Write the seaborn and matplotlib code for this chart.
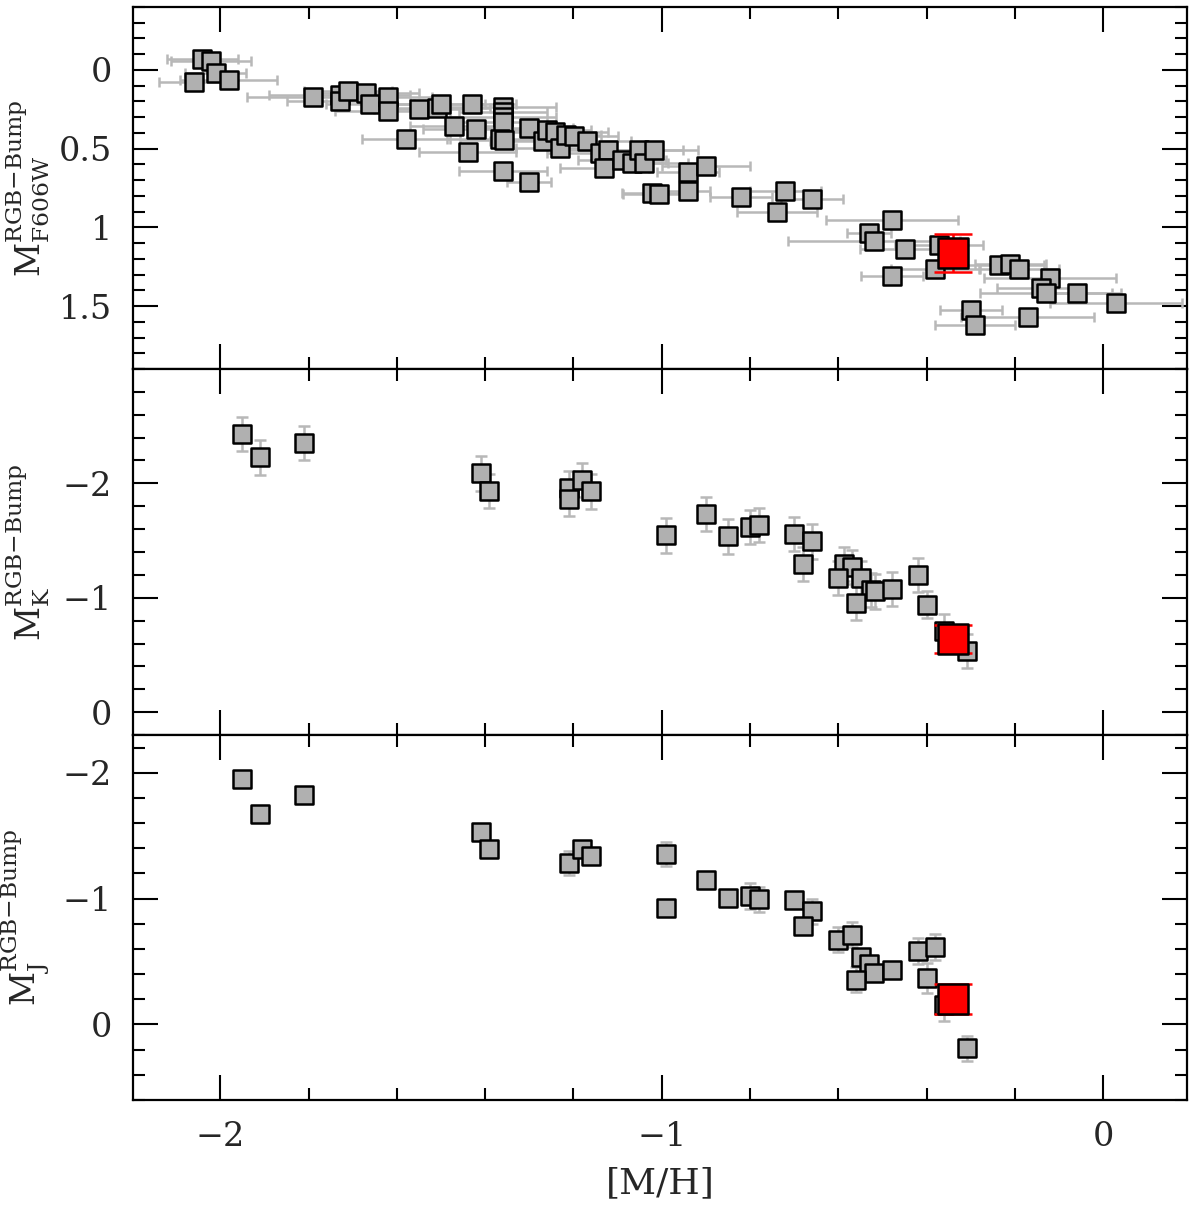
import matplotlib
matplotlib.use("Agg")
import matplotlib.pyplot as plt
from matplotlib.ticker import MultipleLocator
import seaborn as sns

sns.set_theme(style="ticks")
plt.rcParams['font.family'] = ['DejaVu Serif']
plt.rcParams['mathtext.fontset'] = 'dejavuserif'

# top panel: M_F606W of the RGB bump vs [M/H] (with [M/H] errors)
top_mh = [-2.060, -2.041, -2.021, -2.011, -1.981, -1.790, -1.730, -1.730, -1.711, -1.670,
          -1.661, -1.620, -1.620, -1.551, -1.510, -1.500, -1.430, -1.360, -1.360, -1.360,
          -1.360, -1.471, -1.420, -1.580, -1.366, -1.358, -1.440, -1.360, -1.300, -1.300,
          -1.270, -1.261, -1.242, -1.230, -1.217, -1.199, -1.170, -1.141, -1.121, -1.130,
          -1.090, -1.067, -1.052, -1.041, -1.017, -0.940, -0.900, -1.021, -1.007, -0.940,
          -0.820, -0.720, -0.660, -0.739, -0.479, -0.531, -0.520, -0.450, -0.372, -0.380,
          -0.479, -0.235, -0.210, -0.191, -0.120, -0.140, -0.129, -0.060, 0.029, -0.300,
          -0.290, -0.171]
top_mag = [0.078, -0.069, -0.059, 0.019, 0.061, 0.174, 0.162, 0.197, 0.134, 0.145,
           0.216, 0.170, 0.263, 0.246, 0.239, 0.218, 0.214, 0.235, 0.267, 0.298,
           0.330, 0.355, 0.376, 0.441, 0.441, 0.445, 0.521, 0.639, 0.710, 0.370,
           0.454, 0.382, 0.393, 0.498, 0.414, 0.418, 0.450, 0.529, 0.508, 0.626,
           0.571, 0.592, 0.508, 0.592, 0.506, 0.646, 0.608, 0.781, 0.791, 0.772,
           0.810, 0.772, 0.823, 0.903, 0.951, 1.034, 1.087, 1.139, 1.114, 1.262,
           1.308, 1.241, 1.230, 1.262, 1.321, 1.388, 1.418, 1.418, 1.483, 1.525,
           1.618, 1.568]
top_xerr = [0.08, 0.08, 0.09, 0.07, 0.11, 0.15, 0.16, 0.12, 0.10, 0.12,
            0.10, 0.10, 0.12, 0.10, 0.12, 0.10, 0.10, 0.12, 0.10, 0.12,
            0.10, 0.10, 0.12, 0.10, 0.12, 0.10, 0.11, 0.10, 0.05, 0.10,
            0.12, 0.10, 0.12, 0.10, 0.08, 0.10, 0.10, 0.12, 0.10, 0.10,
            0.10, 0.08, 0.10, 0.10, 0.10, 0.07, 0.10, 0.07, 0.08, 0.05,
            0.07, 0.08, 0.07, 0.09, 0.15, 0.05, 0.195, 0.10, 0.10, 0.10,
            0.07, 0.10, 0.08, 0.09, 0.15, 0.10, 0.15, 0.10, 0.15, 0.07,
            0.09, 0.15]
red_top = (-0.34, 1.165, 0.12)

# middle panel: M_K
mid_mh = [-1.950, -1.910, -1.810, -1.410, -1.391, -1.211, -1.211, -1.181, -1.161, -0.990,
          -0.900, -0.849, -0.801, -0.779, -0.700, -0.660, -0.680, -0.587, -0.569, -0.600,
          -0.549, -0.525, -0.517, -0.479, -0.559, -0.419, -0.400, -0.360, -0.309]
mid_mag = [-2.431, -2.227, -2.350, -2.087, -1.936, -1.960, -1.863, -2.032, -1.930, -1.545,
           -1.732, -1.536, -1.618, -1.638, -1.560, -1.493, -1.297, -1.294, -1.268, -1.172,
           -1.172, -1.070, -1.055, -1.079, -0.953, -1.201, -0.939, -0.706, -0.536]
mid_err = [0.15, 0.15, 0.15, 0.155, 0.15, 0.15, 0.15, 0.15, 0.15, 0.15,
           0.15, 0.15, 0.15, 0.15, 0.15, 0.15, 0.15, 0.15, 0.15, 0.15,
           0.15, 0.15, 0.15, 0.15, 0.15, 0.15, 0.12, 0.15, 0.15]
red_mid = (-0.34, -0.641, 0.124)

# bottom panel: M_J
bot_mh = [-1.950, -1.910, -1.810, -1.410, -1.391, -1.211, -1.181, -1.161, -0.990, -0.990,
          -0.900, -0.849, -0.801, -0.779, -0.700, -0.660, -0.680, -0.600, -0.570, -0.549,
          -0.531, -0.520, -0.559, -0.479, -0.419, -0.380, -0.400, -0.360, -0.309]
bot_mag = [-1.950, -1.676, -1.822, -1.528, -1.395, -1.284, -1.398, -1.340, -1.353, -0.926,
           -1.146, -1.005, -1.021, -0.995, -0.987, -0.899, -0.782, -0.674, -0.714, -0.536,
           -0.483, -0.408, -0.355, -0.430, -0.584, -0.615, -0.372, -0.151, 0.188]
bot_err = [0.05, 0.05, 0.05, 0.05, 0.05, 0.096, 0.05, 0.05, 0.097, 0.05,
           0.05, 0.05, 0.10, 0.10, 0.05, 0.10, 0.05, 0.10, 0.10, 0.05,
           0.06, 0.05, 0.10, 0.05, 0.10, 0.10, 0.12, 0.12, 0.10]
red_bot = (-0.34, -0.199, 0.119)

grey = '#b0b0b0'
errgrey = '#b8b8b8'

fig = plt.figure(figsize=(12, 12.1), dpi=100)
left, width = 133 / 1200, 1054 / 1200
ax1 = fig.add_axes([left, 1 - 369 / 1210, width, 362 / 1210])
ax2 = fig.add_axes([left, 1 - 735 / 1210, width, 366 / 1210], sharex=ax1)
ax3 = fig.add_axes([left, 1 - 1100 / 1210, width, 365 / 1210], sharex=ax1)


def draw_panel(ax, mh, mag, red, xerr=None, yerr=None, caps=3.3):
    ax.errorbar(mh, mag, xerr=xerr, yerr=yerr, fmt='none', ecolor=errgrey,
                elinewidth=1.8, capsize=caps, capthick=1.8, zorder=1)
    sns.scatterplot(x=mh, y=mag, marker='s', s=150, color=grey,
                    edgecolor='black', linewidth=1.8, ax=ax, zorder=3)
    ax.errorbar([red[0]], [red[1]], yerr=[red[2]], fmt='none', ecolor='red',
                elinewidth=1.8, capsize=13.5, capthick=1.8, zorder=4)
    sns.scatterplot(x=[red[0]], y=[red[1]], marker='s', s=470, color='red',
                    edgecolor='black', linewidth=1.8, ax=ax, zorder=5)


draw_panel(ax1, top_mh, top_mag, red_top, xerr=top_xerr, caps=3.3)
draw_panel(ax2, mid_mh, mid_mag, red_mid, yerr=mid_err, caps=4.5)
draw_panel(ax3, bot_mh, bot_mag, red_bot, yerr=bot_err, caps=4.5)

ax1.set_xlim(-2.198, 0.19)
ax1.set_ylim(1.9, -0.4)
ax2.set_ylim(0.2, -3.0)
ax3.set_ylim(0.6, -2.3)

ax1.yaxis.set_minor_locator(MultipleLocator(0.1))
ax1.set_yticks([0, 0.5, 1, 1.5])
ax1.set_yticklabels(['0', '0.5', '1', '1.5'])
for ax in (ax2, ax3):
    ax.set_yticks([-2, -1, 0])
    ax.yaxis.set_minor_locator(MultipleLocator(0.2))
ax3.set_xticks([-2, -1, 0])
ax3.xaxis.set_minor_locator(MultipleLocator(0.2))

for ax in (ax1, ax2, ax3):
    ax.tick_params(which='both', direction='in', top=True, right=True,
                   width=1.5, labelsize=24, color='black')
    ax.tick_params(which='major', length=18)
    ax.tick_params(which='minor', length=8.5)
    ax.tick_params(axis='y', which='major', pad=15)
    ax.tick_params(axis='x', which='major', pad=15)
    for sp in ax.spines.values():
        sp.set_linewidth(1.6)
        sp.set_color('black')
    ax.yaxis.set_label_coords(-0.077, 0.5)
for ax in (ax1, ax2):
    ax.tick_params(labelbottom=False)

sup = r'^{\mathrm{RGB{-}Bump}}'
ax1.set_ylabel(r'$\mathrm{M}' + sup + r'_{\mathrm{F606W}}$', fontsize=24)
ax2.set_ylabel(r'$\mathrm{M}' + sup + r'_{\mathrm{K}}$', fontsize=24)
ax3.set_ylabel(r'$\mathrm{M}' + sup + r'_{\mathrm{J}}$', fontsize=24)
ax3.set_xlabel('[M/H]', fontsize=26, labelpad=10)
for ax in (ax1, ax2):
    ax.set_xlabel('')

fig.savefig('out.png', dpi=100, facecolor='white')
